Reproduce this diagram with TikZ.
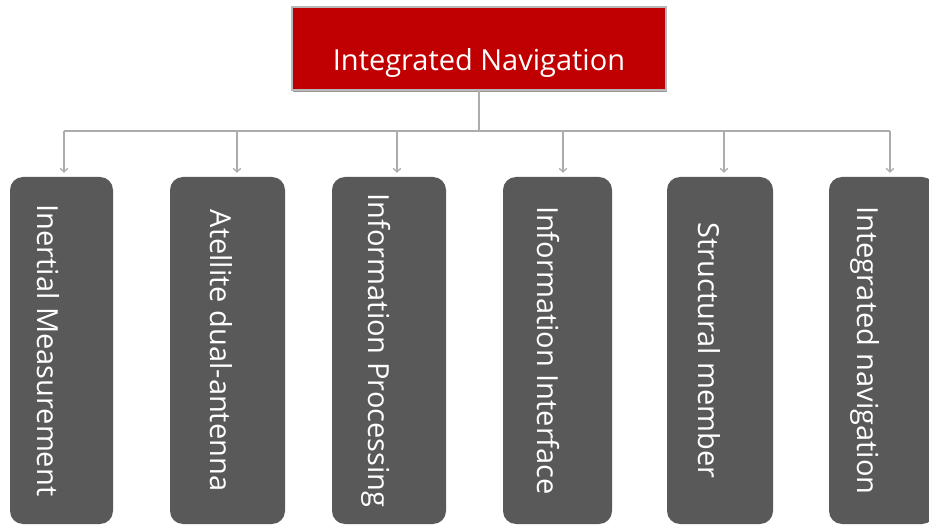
\documentclass[tikz,border=0pt]{standalone}
\usepackage{fontspec}
\setmainfont{Open Sans}
\usetikzlibrary{arrows.meta,shadows}
\definecolor{crimson}{RGB}{192,0,0}
\definecolor{slate}{RGB}{89,89,89}
\definecolor{wire}{RGB}{172,172,172}
\tikzset{
  >={Straight Barb[length=3.5pt,width=7.5pt]},
  head/.style={fill=crimson,draw=black!28,line width=1.5pt,text=white,
    minimum width=374pt,inner sep=0pt,text height=64pt,text depth=19pt,
    font=\fontsize{29}{34}\selectfont,
    drop shadow={shadow xshift=1pt,shadow yshift=-2.5pt,fill=black!40,opacity=1}},
  leaf/.style 2 args={fill=slate,text=white,rounded corners=13pt,rotate=-90,
    minimum width=347pt,minimum height=#1,inner sep=0pt,
    text height=#1-#2,text depth=#2,font=\fontsize{29}{34}\selectfont},
  link/.style={draw=wire,line width=1.3pt},
  feed/.style={link,->},
}
\begin{document}
\begin{tikzpicture}[x=1pt,y=1pt]
  \useasboundingbox (0,0) rectangle (929,525);
  % Top
  \node[head] (nav) at (479,476.5) {Integrated Navigation};
  % Branches
  \node[leaf={103pt}{28pt}] (inertial) at (61.5,174.5) {Inertial Measurement};
  \node[leaf={115pt}{40pt}] (antenna) at (227.5,174.5) {Atellite dual-antenna};
  \node[leaf={114pt}{36pt}] (processing) at (389,174.5) {Information Processing};
  \node[leaf={109pt}{34pt}] (interface) at (557.5,174.5) {Information Interface};
  \node[leaf={106pt}{31pt}] (structure) at (720,174.5) {Structural member};
  \node[leaf={106pt}{28pt}] (integ) at (882,174.5) {Integrated navigation};
  % Connectors
  \coordinate (bus) at (478,394);
  \draw[link] (nav.south) -- (nav.south |- bus);
  \draw[link] ([xshift=2.5pt]inertial.west |- bus) -- ([xshift=8pt]integ.west |- bus);
  \foreach \n/\dx in {inertial/2.5,antenna/9.5,processing/8,interface/5.5,structure/4,integ/8}
    \draw[feed] ([xshift=\dx pt]\n.west |- bus) -- ([xshift=\dx pt,yshift=4pt]\n.west);
\end{tikzpicture}
\end{document}
